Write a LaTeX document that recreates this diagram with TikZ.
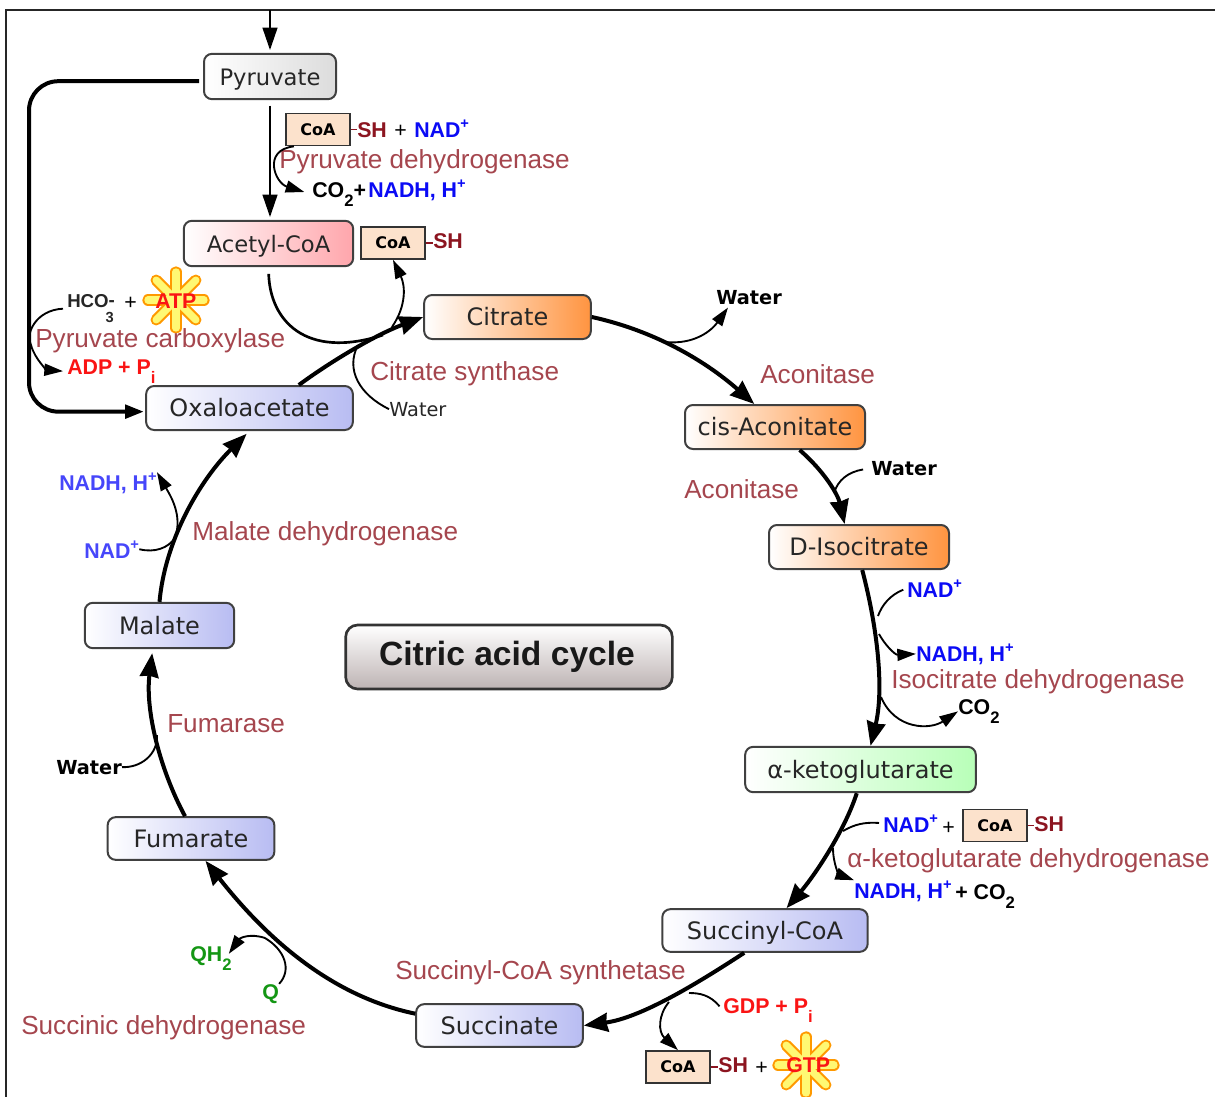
\documentclass[tikz,border=0pt]{standalone}
\usepackage{fontspec}
\setmainfont{Liberation Sans}
\newfontfamily\dejavu{DejaVu Sans}
\usetikzlibrary{arrows.meta,calc}
\definecolor{enz}{HTML}{A5464E}
\definecolor{nadblue}{HTML}{0A0AF5}
\definecolor{softblue}{HTML}{4646FA}
\definecolor{redtxt}{HTML}{FA1414}
\definecolor{sh}{HTML}{8C1520}
\definecolor{grn}{HTML}{149614}
\definecolor{coafill}{HTML}{FCE2CC}
\definecolor{cgray}{HTML}{DCDCDC}
\definecolor{cred}{HTML}{FFA6AC}
\definecolor{corange}{HTML}{FF9440}
\definecolor{cblue}{HTML}{B8BCF2}
\definecolor{cgreen}{HTML}{B8FFB8}
\definecolor{ctitle}{HTML}{BDB3B3}
\newcommand{\mysup}[1]{\raisebox{0.42em}{\fontsize{11}{11}\selectfont #1}}
\newcommand{\mysub}[1]{\raisebox{-0.45em}{\fontsize{12.5}{12.5}\selectfont #1}}
\tikzset{
  x=0.75pt,y=-0.75pt,
  met/.style={draw=black!75,line width=1.5pt,rounded corners=6pt,inner sep=0pt,text height=13pt,text depth=0pt,font=\dejavu\fontsize{18}{18}\selectfont,text=black!85},
  metsmall/.style={met,font=\dejavu\fontsize{17}{17}\selectfont},
  enzlab/.style={anchor=base west,inner sep=0pt,text=enz,font=\fontsize{19.6}{19.6}\selectfont},
  bl/.style={anchor=base west,inner sep=0pt,font=\bfseries\fontsize{16}{16}\selectfont},
  plus/.style={anchor=base west,inner sep=0pt,font=\fontsize{16}{16}\selectfont},
  wat/.style={anchor=base west,inner sep=0pt,font=\dejavu\bfseries\fontsize{14.5}{14.5}\selectfont},
  coabox/.style={draw=black!80,fill=coafill,line width=1.3pt,minimum width=48pt,minimum height=24pt,inner sep=0pt,font=\dejavu\bfseries\fontsize{12}{12}\selectfont},
  main/.style={line width=3pt,-{Stealth[length=18pt,width=14pt,inset=1pt]}},
  vert/.style={line width=2pt,-{Stealth[length=17pt,width=11pt,inset=0pt]}},
  side/.style={line width=1.4pt,-{Stealth[length=14pt,width=9pt,inset=0pt]}},
  sideplain/.style={line width=1.4pt},
  burstout/.style={line width=8.5pt,line cap=round,draw=orange!80!yellow},
  burstin/.style={line width=5.5pt,line cap=round,draw=yellow!55},
  shdash/.style={sh,line width=1.2pt},
}
\newcommand{\burst}[1]{%
  \foreach \a in {0,45,...,315}{\draw[burstout] (#1) -- ++(\a:28);}
  \foreach \a in {0,45,...,315}{\draw[burstin] (#1) -- ++(\a:28);}
}
\begin{document}
\begin{tikzpicture}
\useasboundingbox (0,0) rectangle (1215,1097);
% frame
\coordinate (fa) at (6,1097);
\coordinate (fb) at (6,10);
\coordinate (fc) at (1215,10);
\draw[black!85,line width=1.5pt] (fa) -- (fb) -- (fc);
% metabolites
\node[metsmall,left color=white,right color=cgray,minimum width=99pt,minimum height=34pt] (pyr) at (270,76.5) {Pyruvate};
\node[metsmall,left color=white,right color=cred,minimum width=127pt,minimum height=34pt] (ac) at (268.5,243.5) {Acetyl-CoA};
\node[met,left color=white,right color=corange,minimum width=125pt,minimum height=33pt] (ci) at (507.5,317) {Citrate};
\node[met,left color=white,right color=corange,minimum width=135pt,minimum height=33pt] (ca) at (775,427) {cis-Aconitate};
\node[met,left color=white,right color=corange,minimum width=135pt,minimum height=33pt] (is) at (859,547) {D-Isocitrate};
\node[met,left color=white,right color=cgreen,minimum width=173pt,minimum height=34pt] (kg) at (860.5,769.5) {α-ketoglutarate};
\node[met,left color=white,right color=cblue,minimum width=154pt,minimum height=32pt] (sc) at (765,930.5) {Succinyl-CoA};
\node[met,left color=white,right color=cblue,minimum width=125pt,minimum height=32pt] (sn) at (499.5,1025.5) {Succinate};
\node[met,left color=white,right color=cblue,minimum width=125pt,minimum height=32pt] (fu) at (191,838.5) {Fumarate};
\node[met,left color=white,right color=cblue,minimum width=112pt,minimum height=34pt] (ma) at (159.5,625.5) {Malate};
\node[met,left color=white,right color=cblue,minimum width=155pt,minimum height=33pt] (ox) at (249.5,408) {Oxaloacetate};
\node[draw=black!80,line width=2pt,rounded corners=9pt,top color=white,bottom color=ctitle,minimum width=245pt,minimum height=48pt,inner sep=0pt,font=\bfseries\fontsize{25.2}{25.2}\selectfont,text=black!90] (title) at (509,657) {\hspace*{-3pt}Citric acid cycle};
% CoA boxes
\node[coabox] (coa1) at (318,129.5) {CoA};
\node[coabox] (coa2) at (393,243) {CoA};
\node[coabox] (coa3) at (995,825.5) {CoA};
\node[coabox] (coa4) at (678,1067) {CoA};
% bursts
\coordinate (atpc) at (176,300);
\coordinate (gtpc) at (806,1065);
\burst{atpc}
\burst{gtpc}
% labels
\node[bl,text=sh] (sh1) at (357,137) {SH};
\node[plus] (pl1) at (394,137) {+};
\node[bl,text=nadblue] (nad1) at (414,137) {NAD\mysup{+}};
\node[bl] (co21) at (312,197) {CO\mysub{2}+};
\node[bl,text=nadblue] (nadh1) at (368,197) {NADH, H\mysup{+}};
\node[bl,text=sh] (sh2) at (433,248) {SH};
\node[anchor=base west,inner sep=0pt,font=\bfseries\fontsize{14}{14}\selectfont,text=black!85] (hco) at (67,307) {HCO\raisebox{0.05em}{-}\hspace{-0.5em}\raisebox{-0.85em}{\fontsize{11}{11}\selectfont 3}};
\node[plus] (pl2) at (124,309) {+};
\node[bl,text=redtxt] (atp) at (155,308) {ATP};
\node[bl,text=redtxt] (adp) at (67,374) {ADP + P\mysub{i}};
\node[anchor=base west,inner sep=0pt,font=\dejavu\fontsize{14.5}{14.5}\selectfont,text=black!85] (w1) at (389,416) {Water};
\node[wat] (w2) at (716,304) {Water};
\node[wat] (w3) at (871,475) {Water};
\node[wat] (w4) at (56,774) {Water};
\node[bl,text=nadblue] (nad2) at (907,597) {NAD\mysup{+}};
\node[bl,text=nadblue] (nadh2) at (916,661) {NADH, H\mysup{+}};
\node[bl] (co22) at (958,714) {CO\mysub{2}};
\node[bl,text=nadblue] (nad3) at (883,832) {NAD\mysup{+}};
\node[plus] (pl3) at (942,834) {+};
\node[bl,text=sh] (sh3) at (1034,831) {SH};
\node[bl,text=nadblue] (nadh3) at (854,898) {NADH, H\mysup{+}};
\node[bl] (co23) at (955,899) {+ CO\mysub{2}};
\node[bl,text=redtxt] (gdp) at (723,1013) {GDP + P\mysub{i}};
\node[bl,text=sh] (sh4) at (718,1072) {SH};
\node[plus] (pl4) at (755,1074) {+};
\node[bl,text=redtxt] (gtp) at (786,1072) {GTP};
\node[bl,text=softblue] (nadh4) at (59,490) {NADH, H\mysup{+}};
\node[bl,text=softblue] (nad4) at (84,558) {NAD\mysup{+}};
\node[bl,text=grn] (qh) at (190,961) {QH\mysub{2}};
\node[bl,text=grn] (q) at (262,999) {Q};
% enzymes
\node[enzlab] (e1) at (279,168) {Pyruvate dehydrogenase};
\node[enzlab] (e2) at (35,347) {Pyruvate carboxylase};
\node[enzlab] (e3) at (370,380) {Citrate synthase};
\node[enzlab] (e4) at (760,383) {Aconitase};
\node[enzlab] (e5) at (684,498) {Aconitase};
\node[enzlab] (e6) at (891,688) {Isocitrate dehydrogenase};
\node[enzlab] (e7) at (847,867) {α-ketoglutarate dehydrogenase};
\node[enzlab] (e8) at (395,979) {Succinyl-CoA synthetase};
\node[enzlab] (e9) at (21,1034) {Succinic dehydrogenase};
\node[enzlab] (e10) at (167,732) {Fumarase};
\node[enzlab] (e11) at (192,540) {Malate dehydrogenase};
% dashes joining CoA and SH
\draw[shdash] (coa1.east) -- (sh1.west |- coa1.east);
\draw[shdash] (coa2.east) -- (sh2.west |- coa2.east);
\draw[shdash] (coa3.east) -- (sh3.west |- coa3.east);
\draw[shdash] (coa4.east) -- (sh4.west |- coa4.east);
% main connectors
\coordinate (top) at (270,10);
\draw[vert,shorten >=2pt] (top) -- (pyr.north);
\draw[vert,shorten <=4pt,shorten >=2pt] (pyr.south) -- (pyr.south |- ac.north);
\coordinate (lc) at (29,245);
\draw[line width=3pt,rounded corners=22pt,shorten <=3pt,shorten >=1pt,-{Stealth[length=14pt,width=10pt,inset=0pt]}] (pyr.184) -| (lc) |- (ox.182);
\draw[main] (ox.25) .. controls (330,362) and (375,335) .. (ci.west);
\draw[main] (ci.east) .. controls (660,332) and (710,365) .. (ca.132);
\draw[main] (ca.-43) .. controls (825,472) and (838,495) .. (is.122);
\draw[main] (is.-82) .. controls (878,630) and (884,690) .. (kg.67);
\draw[main] (kg.261) .. controls (845,830) and (815,875) .. (sc.46);
\draw[main] (sc.227) .. controls (695,985) and (640,1018) .. (sn.east);
\draw[main] (sn.172) .. controls (325,995) and (260,930) .. (fu.-57);
\draw[main,shorten >=3pt] (fu.105) .. controls (160,770) and (145,710) .. (ma.-106);
\draw[main,shorten >=3pt] (ma.north) .. controls (165,540) and (200,480) .. (ox.south);
% side arcs
\coordinate (j1) at (383,335);
\coordinate (j2) at (392,327);
\coordinate (j3) at (358,345);
\draw[sideplain,line width=2pt,shorten <=5pt] (ac.south) .. controls (270,320) and (305,360) .. (j1);
\draw[side] (j2) .. controls (407,305) and (405,285) .. (coa2.south);
\draw[sideplain] (w1.west) .. controls (360,395) and (345,370) .. (j3);
\draw[side,shorten >=6pt] (coa1.215) .. controls (262,150) and (275,183) .. (co21.west);
\coordinate (j4) at (665,342);
\draw[side] (j4) .. controls (695,345) and (712,330) .. ($(w2.south west)+(12,3)$);
\coordinate (j5) at (834,493);
\draw[sideplain,shorten <=6pt] (w3.west) .. controls (848,472) and (838,480) .. (j5);
\coordinate (j6) at (878,616);
\draw[sideplain,shorten <=3pt] (nad2.west) .. controls (890,595) and (882,605) .. (j6);
\coordinate (j7) at (879,634);
\draw[side] (j7) .. controls (885,645) and (895,655) .. (nadh2.west);
\coordinate (j8) at (881,697);
\draw[side] (j8) .. controls (895,730) and (930,730) .. (co22.west);
\coordinate (j9) at (843,831);
\draw[sideplain,shorten <=3pt] (nad3.west) .. controls (865,822) and (855,824) .. (j9);
\coordinate (j10) at (833,848);
\draw[side] (j10) .. controls (833,865) and (840,875) .. (nadh3.north west);
\coordinate (j11) at (689,993);
\draw[sideplain,shorten <=4pt] (gdp.west) .. controls (710,995) and (700,993) .. (j11);
\coordinate (j12) at (669,1002);
\draw[side] (j12) .. controls (658,1015) and (658,1032) .. (coa4.north);
\coordinate (j13) at (265,938);
\draw[sideplain] (q.north east) .. controls (292,970) and (285,950) .. (j13);
\draw[side] (j13) .. controls (250,933) and (240,938) .. ($(qh.north east)+(-3,8)$);
\coordinate (j14) at (157,735);
\draw[sideplain] (w4.east) .. controls (140,768) and (158,755) .. (j14);
\coordinate (j15) at (175,538);
\draw[sideplain] (nad4.east) .. controls (155,553) and (168,548) .. (j15);
\draw[side] (j15) .. controls (183,515) and (170,495) .. (nadh4.north east);
\coordinate (j16) at (31,345);
\draw[sideplain,shorten <=3pt] (hco.west) .. controls (35,310) and (25,335) .. (j16);
\draw[side,shorten >=3pt] (j16) .. controls (35,360) and (48,370) .. (adp.west);
\end{tikzpicture}
\end{document}
